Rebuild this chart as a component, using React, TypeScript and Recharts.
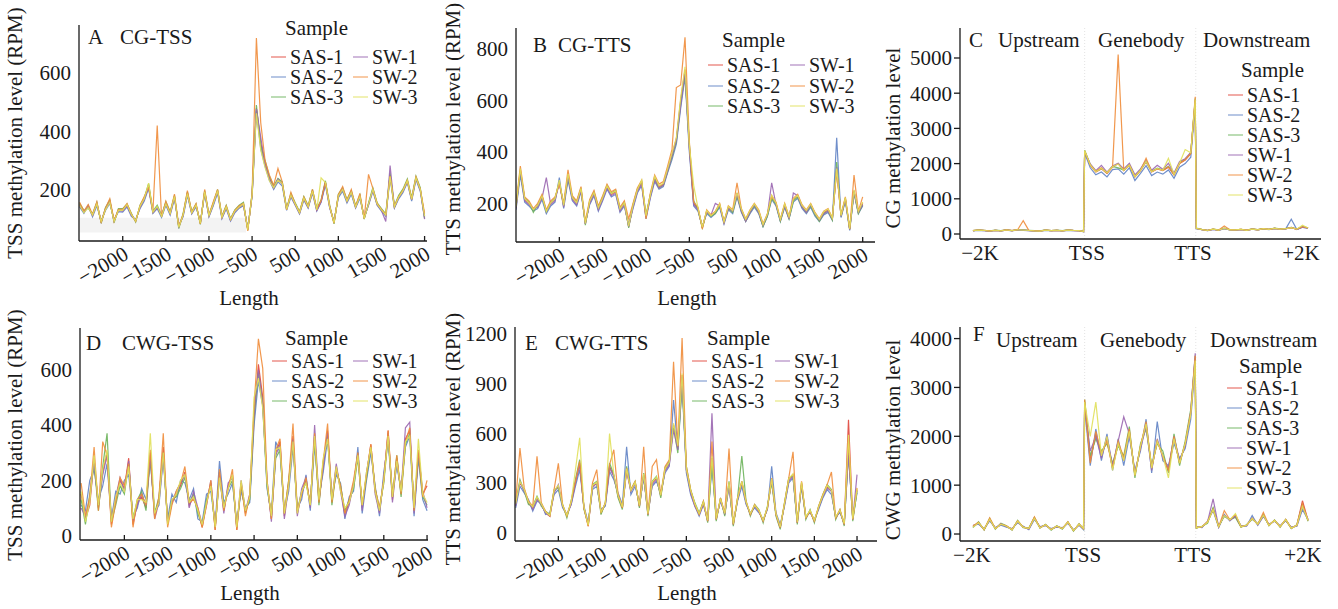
import React from "react";
import { LineChart, Line, XAxis, YAxis, ReferenceArea, ReferenceLine } from "recharts";

const FONT = '"Liberation Serif", "Times New Roman", Times, serif';
const INK = "#1a1a1a";

const SAMPLES = ["SAS-1", "SAS-2", "SAS-3", "SW-1", "SW-2", "SW-3"];
const COLORS = ["#e0463c", "#5f82c4", "#6cb35a", "#9a66b0", "#f08c3a", "#e0e05a"];

// flank panels (A, B, D, E): internal position, 500 per tick step, -500 and 500 are neighbours
const FLANK_POS = [
  0, 50, 100, 150, 200, 250, 300, 350, 400, 450, 500, 550, 600, 650, 700, 750, 800, 850, 900, 950,
  1000, 1050, 1100, 1150, 1200, 1250, 1300, 1350, 1400, 1450, 1500, 1550, 1600, 1650, 1700, 1750, 1800, 1850, 1900, 1950,
  2000, 2050, 2100, 2150, 2200, 2250, 2300, 2350, 2400, 2450, 2500, 2550, 2600, 2650, 2700, 2750, 2800, 2850, 2900, 2950,
  3000, 3050, 3100, 3150, 3200, 3250, 3300, 3350, 3400, 3450, 3500, 3550, 3600, 3650, 3700, 3750, 3800, 3850, 3900, 3950,
  4000,
];
const FLANK_TICKS = [500, 1000, 1500, 2000, 2500, 3000, 3500, 4000];
const FLANK_TICK_LABELS = ["−2000", "−1500", "−1000", "−500", "500", "1000", "1500", "2000"];

// metagene panels (C, F): upstream 0-100, genebody 100-200, downstream 200-300
const BODY_POS = [
  0, 5, 10, 15, 20, 25, 30, 35, 40, 45, 50, 55, 60, 65, 70, 75, 80, 85, 90, 95, 99,
  100, 105, 110, 115, 120, 125, 130, 135, 140, 145, 150, 155, 160, 165, 170, 175, 180, 185, 190, 195, 199,
  200, 205, 210, 215, 220, 225, 230, 235, 240, 245, 250, 255, 260, 265, 270, 275, 280, 285, 290, 295, 300,
];
const C_TICKS = [6.3, 102, 197, 293.6];
const F_TICKS = [-1, 98.5, 197, 295.4];
const BODY_TICK_LABELS = ["−2K", "TSS", "TTS", "+2K"];

// A: CG-TSS
const A_SAS1 = [148,122,140,112,150,88,132,160,90,130,128,146,114,92,140,168,214,122,140,108,152,118,176,70,112,188,120,146,84,192,110,150,196,104,140,96,126,140,150,62,182,480,360,292,240,206,232,220,132,180,150,120,170,140,194,130,160,224,140,86,178,200,160,190,140,176,100,150,200,150,130,112,250,140,174,196,230,166,240,200,110];
const A_SAS2 = [140,118,146,106,144,92,128,152,96,124,122,140,108,96,134,160,204,118,134,104,146,112,168,76,106,180,116,140,88,186,106,144,188,100,134,92,120,136,144,66,176,470,340,280,232,200,226,212,128,174,146,116,164,136,188,126,156,216,136,92,172,194,154,184,136,170,104,146,194,146,126,108,240,136,168,190,224,160,234,194,104];
const A_SAS3 = [152,128,136,116,156,84,138,164,86,134,134,150,118,88,146,172,220,126,146,112,158,124,180,66,118,192,124,150,80,196,114,154,200,108,146,100,130,146,156,60,188,490,350,300,246,212,238,226,136,186,154,124,176,144,200,134,164,230,146,82,184,206,166,196,144,182,98,154,206,154,134,116,256,144,180,202,236,172,246,206,100];
const A_SW1 = [144,124,142,110,152,90,134,158,92,128,126,144,112,94,138,166,210,120,138,110,150,116,174,72,110,186,118,144,86,190,108,148,194,102,138,94,124,138,148,64,180,476,380,286,236,204,236,218,134,178,148,118,168,138,192,128,158,222,138,88,176,202,158,192,138,178,102,148,198,148,128,90,282,138,172,194,228,164,238,198,98];
const A_SW2 = [156,126,148,114,158,86,136,168,94,132,132,152,116,90,144,176,208,124,420,106,160,120,184,74,114,196,122,152,82,200,112,158,200,106,144,98,128,144,152,58,186,720,430,300,250,214,272,226,130,190,150,122,174,142,200,132,162,226,142,84,182,210,162,200,142,186,100,252,204,152,132,114,246,142,176,198,232,168,244,202,118];
const A_SW3 = [146,120,138,112,150,90,130,156,90,128,128,148,114,92,142,168,222,122,142,108,150,118,176,70,112,186,120,146,84,192,110,150,196,104,140,96,126,140,150,62,182,462,336,276,230,206,232,220,132,180,150,120,170,140,194,130,240,224,140,86,178,200,160,190,140,176,100,150,200,150,130,112,244,140,174,196,230,166,240,200,108];

// B: CG-TTS
const B_SAS1 = [185,330,215,200,175,190,225,165,200,215,285,190,310,220,200,255,120,205,240,180,220,265,235,245,175,200,110,190,250,280,150,230,300,265,275,330,390,450,600,720,420,200,180,105,170,150,165,195,125,185,170,240,175,135,170,195,170,115,155,230,200,135,195,145,215,230,190,170,195,160,135,165,175,140,330,150,220,100,250,165,200];
const B_SAS2 = [175,310,205,190,170,180,215,160,190,205,300,180,290,210,190,245,125,195,230,170,210,255,225,235,165,190,115,180,240,270,140,220,285,255,265,320,370,430,570,690,400,190,170,110,160,145,160,185,120,175,160,225,165,130,160,185,160,110,150,215,190,130,185,140,205,220,180,160,185,150,130,155,165,135,455,145,210,95,240,160,190];
const B_SAS3 = [190,320,220,205,165,195,230,170,205,220,280,195,300,225,205,260,115,210,245,185,225,270,240,250,180,205,105,195,255,285,155,235,295,260,270,325,380,440,590,700,430,210,175,105,165,150,160,190,130,180,165,230,170,130,165,190,165,110,150,220,195,130,190,140,210,225,185,165,190,155,130,160,170,135,360,150,215,100,245,160,195];
const B_SW1 = [180,325,210,195,180,185,220,300,195,210,280,185,305,215,195,250,120,200,235,175,215,260,230,240,170,195,110,185,245,275,145,225,290,260,270,325,385,445,580,710,415,195,175,110,165,155,200,190,125,180,170,235,170,130,165,195,165,115,155,280,195,135,190,140,240,230,185,165,195,160,135,160,170,140,340,150,215,100,245,165,195];
const B_SW2 = [195,345,225,210,180,200,235,175,210,225,275,200,330,230,210,265,130,215,250,190,230,275,245,255,185,210,140,200,260,290,140,240,310,275,285,345,410,650,660,845,440,205,185,100,175,155,170,200,130,190,175,280,180,140,175,200,175,120,160,225,205,140,200,150,220,235,195,175,200,165,140,170,180,145,330,155,225,100,310,170,225];
const B_SW3 = [188,335,218,202,176,192,228,168,202,218,290,192,315,222,202,258,122,208,242,182,222,268,238,248,178,202,112,192,252,290,152,232,305,268,278,335,395,455,610,730,425,270,182,108,172,152,168,198,128,188,172,242,178,138,172,198,172,118,158,232,202,138,198,148,218,232,192,172,198,162,138,168,178,142,335,152,222,102,252,168,205];

// C: CG metagene
const C_SAS1 = [95,110,100,85,105,90,115,95,120,110,100,90,85,110,95,105,90,110,100,95,70,2350,1950,1760,1850,1720,1900,2000,1800,1950,1620,1800,2050,1760,1850,1800,1900,1680,2000,2100,2280,3800,160,125,100,135,110,160,120,115,130,105,140,120,150,130,160,140,150,180,135,200,170];
const C_SAS2 = [90,105,95,80,100,85,110,90,115,105,95,85,80,105,90,100,85,105,95,90,65,2300,1880,1680,1760,1620,1830,1850,1700,1880,1520,1720,1940,1660,1760,1700,1820,1580,1900,2000,2180,3700,150,120,95,130,105,150,115,110,125,100,135,115,145,125,155,135,145,420,130,190,165];
const C_SAS3 = [100,115,105,90,110,95,120,100,125,115,105,95,90,115,100,110,95,115,105,100,75,2380,1980,1780,1870,1740,1920,1880,1820,1970,1640,1820,2070,1780,1870,1820,1920,1700,2020,2120,2300,3850,165,130,105,140,115,165,125,120,135,110,145,125,155,135,165,145,155,190,140,210,175];
const C_SW1 = [92,108,98,84,102,88,112,94,118,108,98,88,82,108,92,102,88,108,98,92,68,2340,1990,1800,1950,1760,1930,2010,1850,2010,1680,1850,2100,1810,1950,1840,2010,1730,2060,2140,2320,3780,155,120,98,132,108,155,118,112,128,102,138,118,148,128,158,138,148,185,132,195,168];
const C_SW2 = [98,112,102,88,106,92,116,96,122,380,102,92,86,112,96,106,92,112,102,96,72,2360,1960,1780,1880,1730,1910,5100,1810,1960,1630,1810,2150,1770,1860,1810,1910,1690,2010,2110,2290,3900,162,128,102,138,112,230,122,118,132,108,142,122,152,132,162,142,152,182,138,205,172];
const C_SW3 = [96,110,100,86,104,90,114,96,120,112,100,90,84,110,94,104,90,110,100,94,70,2370,1960,1770,1860,1740,1910,1990,1810,1960,1630,1810,2060,1770,1860,1810,2150,1690,2020,2400,2310,3820,160,126,100,136,110,158,120,116,130,106,140,120,150,130,160,140,150,182,136,250,172];

// D: CWG-TSS
const D_SAS1 = [150,60,110,280,100,230,300,40,130,200,170,280,40,120,140,100,300,70,130,320,40,120,150,180,230,110,140,90,30,120,190,20,230,90,180,220,20,190,80,140,420,620,500,190,60,300,340,70,190,360,80,150,200,110,360,120,260,380,120,250,170,80,120,180,300,100,220,330,160,90,200,380,130,280,150,350,380,90,300,150,180];
const D_SAS2 = [110,90,200,240,130,180,260,60,160,150,200,220,70,100,170,130,270,90,110,280,60,150,120,200,190,130,170,60,50,150,160,40,270,120,150,190,50,160,100,120,400,560,470,170,80,340,300,90,160,320,100,130,220,90,330,140,230,350,140,220,190,60,140,160,320,80,200,300,180,70,230,340,150,250,170,320,360,70,280,130,90];
const D_SAS3 = [130,40,150,260,90,250,370,50,110,180,150,260,60,130,160,90,280,80,140,300,50,130,140,170,210,120,150,80,40,130,180,30,210,100,170,200,30,180,90,130,440,590,480,180,70,280,310,80,200,340,90,160,190,120,350,110,270,360,110,240,180,90,130,170,280,110,210,320,170,100,190,360,140,290,140,330,370,100,290,140,110];
const D_SW1 = [100,70,130,270,110,220,290,60,140,210,160,270,50,110,150,110,290,60,120,290,50,120,160,190,220,100,160,100,40,110,200,30,220,80,190,210,30,200,90,150,450,600,470,200,50,290,330,60,180,350,70,170,210,100,400,130,250,370,130,260,160,70,110,190,290,90,230,320,150,80,210,370,120,270,160,390,410,80,300,160,100];
const D_SW2 = [190,70,140,320,90,340,290,30,120,210,180,260,30,130,150,110,310,60,140,370,30,110,160,190,250,120,130,100,30,110,200,20,240,90,170,240,20,190,70,150,470,712,605,200,60,310,350,80,200,405,90,150,210,110,370,120,270,405,120,240,180,80,130,200,300,110,220,330,170,100,200,380,140,290,150,340,390,90,310,140,200];
const D_SW3 = [160,50,120,290,110,240,310,50,140,190,160,250,60,130,130,120,370,80,120,300,40,130,150,200,220,120,140,90,40,120,180,30,210,100,170,220,30,200,90,140,500,570,460,190,70,310,320,80,180,340,80,160,190,110,360,130,280,350,130,250,160,100,120,180,290,110,230,320,160,90,200,360,140,270,160,340,360,100,350,150,120];

// E: CWG-TTS
const E_SAS1 = [170,300,260,180,150,210,170,120,100,250,280,160,100,180,300,420,150,40,280,300,120,170,400,340,220,150,380,250,300,160,350,110,300,330,220,380,420,650,520,950,380,250,170,110,180,70,450,80,200,110,300,50,200,300,180,110,160,130,70,150,320,110,30,170,320,350,60,300,90,130,70,150,220,280,250,90,130,50,680,80,260];
const E_SAS2 = [150,280,240,200,130,190,180,110,120,230,260,150,110,170,280,380,160,60,260,280,140,160,370,320,240,170,518,230,280,180,330,130,280,310,240,360,400,800,500,900,360,230,160,100,170,80,400,90,190,120,280,60,190,280,170,120,150,120,80,140,400,120,50,160,300,330,70,280,100,120,80,140,210,260,230,100,120,60,470,90,240];
const E_SAS3 = [180,320,250,170,160,220,160,130,110,260,270,170,90,190,320,440,140,50,290,310,110,180,420,350,210,140,400,260,310,150,360,100,310,340,210,390,430,640,480,900,400,260,180,120,190,60,430,70,210,100,310,40,210,462,190,100,170,140,60,160,300,100,20,180,330,340,50,290,80,140,60,160,230,290,260,80,140,40,500,70,250];
const E_SW1 = [160,310,250,190,140,200,170,120,100,240,290,160,110,170,300,410,150,50,270,300,130,170,390,340,230,150,370,250,300,160,340,110,290,320,230,370,410,620,500,940,380,240,160,110,170,70,720,80,200,110,290,50,200,310,180,110,160,130,70,150,320,110,30,170,310,340,60,290,90,130,70,150,220,270,250,90,130,50,480,80,350];
const E_SW2 = [190,510,270,190,160,460,180,130,100,260,418,170,100,190,310,430,150,40,300,380,120,180,410,500,230,150,390,260,310,160,518,110,400,440,230,400,440,1030,520,1174,400,260,170,110,190,70,550,80,210,120,508,50,210,310,190,110,170,130,70,150,330,110,30,180,330,488,60,310,90,130,70,160,230,290,366,90,140,50,560,80,270];
const E_SW3 = [175,310,260,185,155,215,175,125,105,255,285,165,105,185,378,572,155,45,285,305,125,175,598,350,225,155,385,255,305,165,355,115,305,335,225,385,425,660,525,960,385,255,175,115,185,75,460,85,205,115,305,55,205,310,185,115,165,135,75,155,325,115,35,175,325,355,65,305,95,135,75,155,225,285,255,95,135,55,590,85,265];

// F: CWG metagene
const F_SAS1 = [150,230,90,300,110,200,160,90,260,140,110,330,130,190,90,160,110,240,70,200,110,2700,1500,2050,1600,1950,1350,1850,1500,2100,1200,1800,2250,1350,1900,1600,1300,1950,1450,1850,2450,3600,130,150,240,520,150,380,290,360,150,180,320,200,380,180,280,150,290,120,180,680,280];
const F_SAS2 = [180,200,110,270,130,180,140,110,230,160,90,300,150,170,110,140,130,220,90,180,90,2600,1400,2150,1500,2050,1300,1950,1400,2000,1300,1700,2350,1250,2300,1500,1400,1850,1550,1750,2350,3500,150,130,260,480,130,400,270,380,170,160,380,180,360,200,260,170,270,140,160,500,300];
const F_SAS3 = [130,250,80,320,100,220,170,80,280,130,120,340,120,200,80,170,100,250,60,210,100,2750,1600,1950,1700,1850,1450,1800,1600,2200,1150,1850,2150,1400,1850,1700,1250,2050,1400,1900,2550,3650,120,160,220,540,160,360,300,340,140,190,300,210,400,170,290,140,300,110,190,600,260];
const F_SW1 = [160,220,100,290,120,210,150,100,250,150,100,320,140,180,100,150,120,230,80,190,100,2650,1700,2000,1550,2000,1400,1900,2400,2050,1250,1750,2200,1300,1950,1550,1350,2000,1500,1800,2500,3700,140,140,250,720,140,390,280,370,160,170,330,190,370,190,270,160,280,130,170,550,290];
const F_SW2 = [170,240,90,330,110,200,170,90,270,140,110,350,130,190,90,160,110,250,70,200,110,2750,1450,2100,1650,1900,1350,1900,1550,2150,1200,1800,2300,1350,1900,1600,1300,2000,1450,1850,2500,3650,130,150,250,500,150,480,290,400,150,180,320,200,440,180,280,150,300,120,180,620,280];
const F_SW3 = [140,230,100,300,110,200,160,90,260,140,110,320,130,190,90,160,110,240,70,200,110,2700,2000,2700,1600,2000,1300,1850,1500,2100,1200,1800,2250,1350,1900,1600,1150,1950,1450,1850,2450,3550,130,150,240,500,150,380,290,420,150,180,320,200,380,180,280,150,290,120,180,560,280];

type Rect = [number, number, number, number];

type PanelProps = {
  left: number;
  top: number;
  width: number;
  height: number;
  plot: Rect; // page coords x0,y0,x1,y1
  xs: number[];
  series: number[][];
  xDomain: [number, number];
  yDomain: [number, number];
  xTicks: number[];
  xLabels: string[];
  rotate: boolean;
  yTicks: number[];
  yMarks: boolean;
  shade?: boolean;
  bounds?: boolean;
};

function XTick(props: any) {
  const { x, y, payload, ticks, labels, rotate } = props;
  const label = labels[ticks.indexOf(payload.value)];
  if (rotate) {
    const tx = x + 7;
    const ty = y + 17;
    return (
      <g>
        <line x1={x} x2={x} y1={y} y2={y - 5} stroke={INK} strokeWidth={1.3} />
        <text x={tx} y={ty} transform={`rotate(-30 ${tx} ${ty})`} textAnchor="end" fontSize={21} fontFamily={FONT} fill={INK}>
          {label}
        </text>
      </g>
    );
  }
  return (
    <text x={x} y={y + 21} textAnchor="middle" fontSize={21} fontFamily={FONT} fill={INK}>
      {label}
    </text>
  );
}

function YTick(props: any) {
  const { x, y, payload, marks } = props;
  return (
    <g>
      {marks && <line x1={x - 6} x2={x} y1={y} y2={y} stroke={INK} strokeWidth={1.3} />}
      <text x={x - 8} y={y} dy="0.35em" textAnchor="end" fontSize={21} fontFamily={FONT} fill={INK}>
        {payload.value}
      </text>
    </g>
  );
}

function Panel(p: PanelProps) {
  const data = p.xs.map((x, i) => {
    const row: Record<string, number> = { x };
    p.series.forEach((s, k) => {
      row[SAMPLES[k]] = s[i];
    });
    return row;
  });
  const [x0, y0, x1, y1] = p.plot;
  return (
    <div style={{ position: "absolute", left: p.left, top: p.top }}>
      <LineChart
        width={p.width}
        height={p.height}
        data={data}
        margin={{ top: y0 - p.top, right: p.left + p.width - x1, bottom: 0, left: 0 }}
      >
        {p.shade && <ReferenceArea x1={0} x2={1930} y1={52} y2={103} fill="#f3f3f3" fillOpacity={1} stroke="none" />}
        {p.bounds && <ReferenceLine x={100} stroke="#e4e4e4" strokeDasharray="1 2" />}
        {p.bounds && <ReferenceLine x={199.5} stroke="#e4e4e4" strokeDasharray="1 2" />}
        <XAxis
          dataKey="x"
          type="number"
          domain={p.xDomain}
          allowDataOverflow
          ticks={p.xTicks}
          interval={0}
          height={p.top + p.height - y1}
          tickSize={0}
          tickMargin={0}
          stroke={INK}
          strokeWidth={1.3}
          tick={(tp: any) => <XTick {...tp} ticks={p.xTicks} labels={p.xLabels} rotate={p.rotate} />}
        />
        <YAxis
          type="number"
          domain={p.yDomain}
          allowDataOverflow
          ticks={p.yTicks}
          interval={0}
          width={x0 - p.left}
          tickSize={0}
          tickMargin={0}
          stroke={INK}
          strokeWidth={1.3}
          tick={(tp: any) => <YTick {...tp} marks={p.yMarks} />}
        />
        {p.series.map((_, k) => (
          <Line
            key={SAMPLES[k]}
            type="linear"
            dataKey={SAMPLES[k]}
            stroke={COLORS[k]}
            strokeWidth={1.2}
            strokeOpacity={0.9}
            dot={false}
            activeDot={false}
            isAnimationActive={false}
          />
        ))}
      </LineChart>
    </div>
  );
}

const T = { fontFamily: FONT, fill: INK } as const;

function Legend2({ tx, ty, c1, c2, rows }: { tx: number; ty: number; c1: number; c2: number; rows: number[] }) {
  return (
    <g>
      <text x={tx} y={ty + 7} fontSize={21} {...T}>Sample</text>
      {SAMPLES.map((s, i) => {
        const c = i < 3 ? c1 : c2;
        const cy = rows[i % 3];
        return (
          <g key={s}>
            <line x1={c} x2={c + 15} y1={cy} y2={cy} stroke={COLORS[i]} strokeOpacity={0.65} strokeWidth={1.4} />
            <text x={c + 19} y={cy + 7} fontSize={20} {...T}>{s}</text>
          </g>
        );
      })}
    </g>
  );
}

function Legend1({ tx, ty, c, rows }: { tx: number; ty: number; c: number; rows: number[] }) {
  return (
    <g>
      <text x={tx} y={ty + 7} fontSize={21} {...T}>Sample</text>
      {SAMPLES.map((s, i) => (
        <g key={s}>
          <line x1={c} x2={c + 15} y1={rows[i]} y2={rows[i]} stroke={COLORS[i]} strokeOpacity={0.65} strokeWidth={1.4} />
          <text x={c + 19} y={rows[i] + 7} fontSize={20} {...T}>{s}</text>
        </g>
      ))}
    </g>
  );
}

function VTitle({ cx, cy, text }: { cx: number; cy: number; text: string }) {
  return (
    <text x={cx + 7} y={cy} transform={`rotate(-90 ${cx + 7} ${cy})`} textAnchor="middle" fontSize={21} {...T}>
      {text}
    </text>
  );
}

export default function App() {
  return (
    <div style={{ position: "absolute", left: 0, top: 0, width: 1338, height: 609, background: "#fff", overflow: "hidden" }}>
      <Panel
        left={0} top={0} width={440} height={310} plot={[79, 25, 427, 241]}
        xs={FLANK_POS} series={[A_SAS1, A_SAS2, A_SAS3, A_SW1, A_SW2, A_SW3]}
        xDomain={[-7, 4028]} yDomain={[23, 765]} xTicks={FLANK_TICKS} xLabels={FLANK_TICK_LABELS} rotate
        yTicks={[200, 400, 600]} yMarks={false} shade
      />
      <Panel
        left={440} top={0} width={440} height={310} plot={[516, 28, 875, 242]}
        xs={FLANK_POS} series={[B_SAS1, B_SAS2, B_SAS3, B_SW1, B_SW2, B_SW3]}
        xDomain={[0, 4142]} yDomain={[50, 881]} xTicks={FLANK_TICKS} xLabels={FLANK_TICK_LABELS} rotate
        yTicks={[200, 400, 600, 800]} yMarks={false}
      />
      <Panel
        left={880} top={0} width={458} height={310} plot={[960, 28, 1321, 239]}
        xs={BODY_POS} series={[C_SAS1, C_SAS2, C_SAS3, C_SW1, C_SW2, C_SW3]}
        xDomain={[-11.6, 311.6]} yDomain={[-142, 5852]} xTicks={C_TICKS} xLabels={BODY_TICK_LABELS} rotate={false}
        yTicks={[0, 1000, 2000, 3000, 4000, 5000]} yMarks bounds
      />
      <Panel
        left={0} top={310} width={440} height={299} plot={[80, 328, 428, 540]}
        xs={FLANK_POS} series={[D_SAS1, D_SAS2, D_SAS3, D_SW1, D_SW2, D_SW3]}
        xDomain={[-13, 4011]} yDomain={[-16, 751]} xTicks={FLANK_TICKS} xLabels={FLANK_TICK_LABELS} rotate
        yTicks={[0, 200, 400, 600]} yMarks={false}
      />
      <Panel
        left={440} top={310} width={440} height={299} plot={[515, 327, 877, 541]}
        xs={FLANK_POS} series={[E_SAS1, E_SAS2, E_SAS3, E_SW1, E_SW2, E_SW3]}
        xDomain={[-8, 4234]} yDomain={[-50, 1240]} xTicks={FLANK_TICKS} xLabels={FLANK_TICK_LABELS} rotate
        yTicks={[0, 300, 600, 900, 1200]} yMarks={false}
      />
      <Panel
        left={880} top={310} width={458} height={299} plot={[960, 327, 1321, 541]}
        xs={BODY_POS} series={[F_SAS1, F_SAS2, F_SAS3, F_SW1, F_SW2, F_SW3]}
        xDomain={[-11.6, 311.6]} yDomain={[-143, 4237]} xTicks={F_TICKS} xLabels={BODY_TICK_LABELS} rotate={false}
        yTicks={[0, 1000, 2000, 3000, 4000]} yMarks bounds
      />

      <svg width={1338} height={609} style={{ position: "absolute", left: 0, top: 0, pointerEvents: "none" }}>
        {/* axis titles */}
        <VTitle cx={15} cy={133} text="TSS methylation level (RPM)" />
        <VTitle cx={453} cy={129} text="TTS methylation level (RPM)" />
        <VTitle cx={893} cy={138} text="CG methylation level" />
        <VTitle cx={15} cy={435} text="TSS methylation level (RPM)" />
        <VTitle cx={453} cy={439} text="TTS methylation level (RPM)" />
        <VTitle cx={893} cy={440} text="CWG methylation level" />
        <text x={249} y={305} textAnchor="middle" fontSize={21} {...T}>Length</text>
        <text x={687} y={305} textAnchor="middle" fontSize={21} {...T}>Length</text>
        <text x={250} y={600} textAnchor="middle" fontSize={21} {...T}>Length</text>
        <text x={687} y={600} textAnchor="middle" fontSize={21} {...T}>Length</text>

        {/* panel titles */}
        <text x={88} y={44} fontSize={21} {...T}>A</text>
        <text x={120} y={44} fontSize={21} {...T}>CG-TSS</text>
        <text x={533} y={52} fontSize={21} {...T}>B</text>
        <text x={558} y={52} fontSize={21} {...T}>CG-TTS</text>
        <text x={969} y={47} fontSize={21} {...T}>C</text>
        <text x={998} y={47} fontSize={21} {...T}>Upstream</text>
        <text x={1098} y={47} fontSize={21} {...T}>Genebody</text>
        <text x={1203} y={47} fontSize={21} {...T}>Downstream</text>
        <text x={86} y={350} fontSize={21} {...T}>D</text>
        <text x={122} y={350} fontSize={21} {...T}>CWG-TSS</text>
        <text x={525} y={350} fontSize={21} {...T}>E</text>
        <text x={555} y={350} fontSize={21} {...T}>CWG-TTS</text>
        <text x={973} y={341} fontSize={21} {...T}>F</text>
        <text x={996} y={347} fontSize={21} {...T}>Upstream</text>
        <text x={1100} y={347} fontSize={21} {...T}>Genebody</text>
        <text x={1210} y={347} fontSize={21} {...T}>Downstream</text>

        {/* legends */}
        <Legend2 tx={285} ty={28} c1={271} c2={353} rows={[57, 77, 97]} />
        <Legend2 tx={722} ty={40} c1={708} c2={790} rows={[65, 86, 106]} />
        <Legend1 tx={1241} ty={70} c={1228} rows={[95, 115, 135, 155, 175, 195]} />
        <Legend2 tx={285} ty={338} c1={272} c2={353} rows={[361, 381, 401]} />
        <Legend2 tx={707} ty={338} c1={692} c2={775} rows={[361, 381, 401]} />
        <Legend1 tx={1239} ty={366} c={1227} rows={[388, 408, 428, 448, 468, 488]} />
      </svg>
    </div>
  );
}
